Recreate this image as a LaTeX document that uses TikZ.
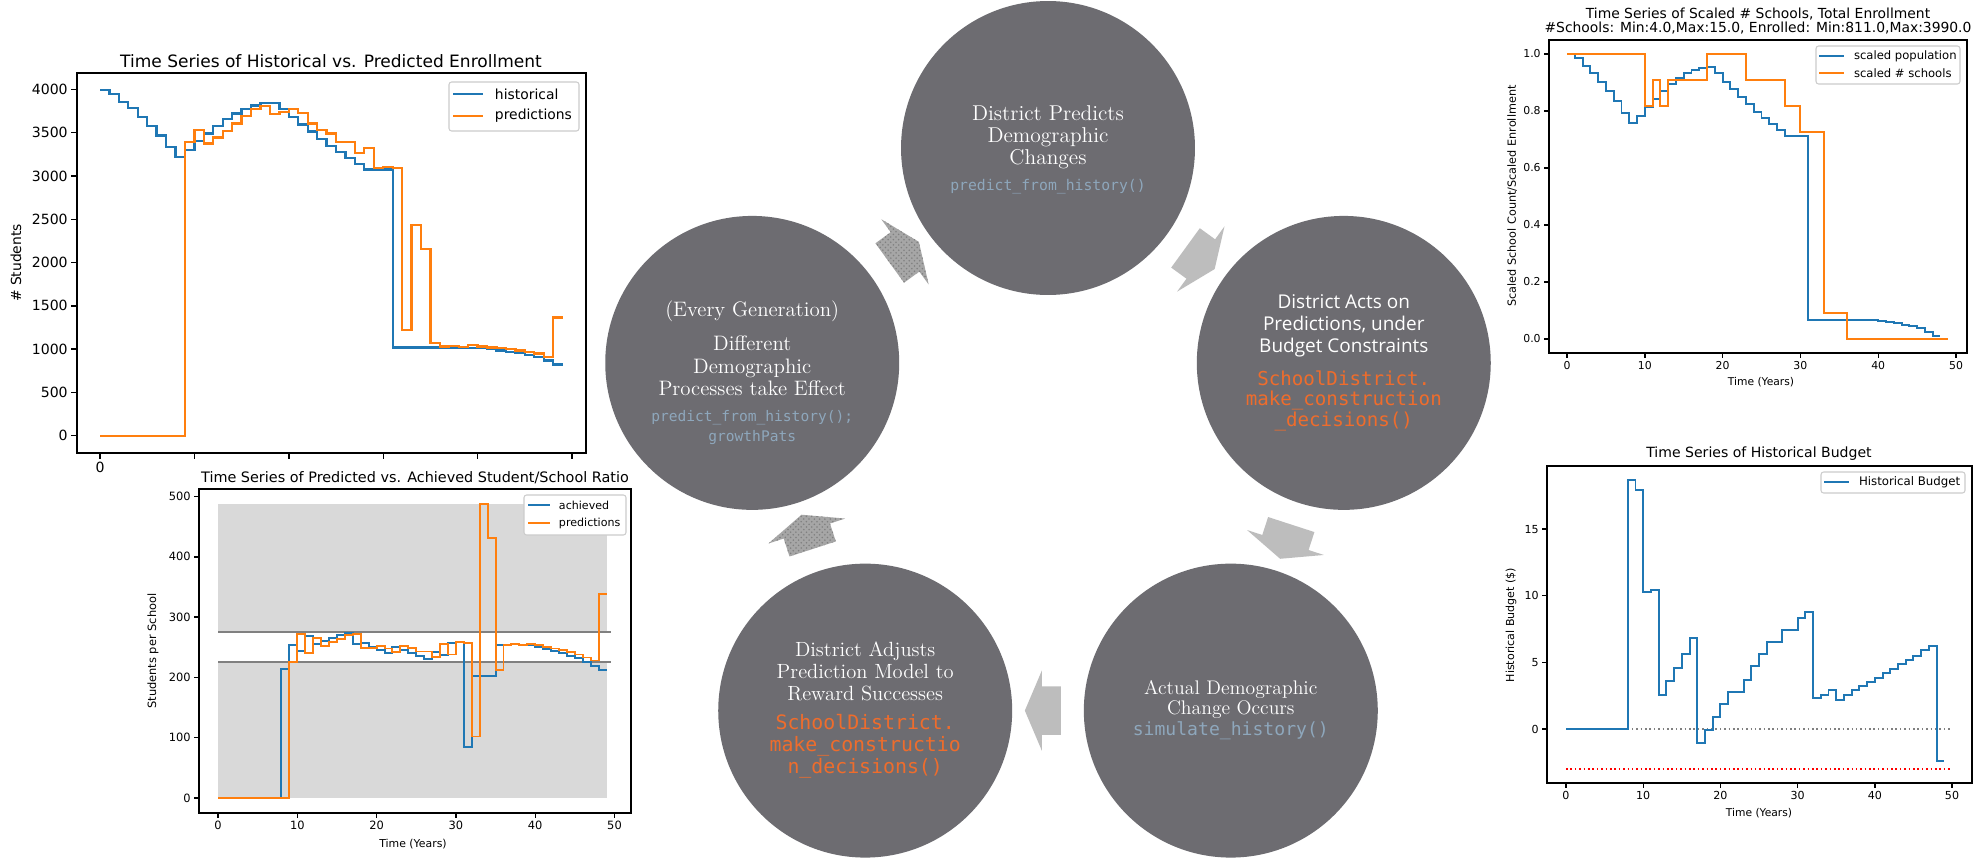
\documentclass[tikz,border=0pt]{standalone}
\usepackage{fontspec}
\newfontfamily\plotfont{DejaVu Sans}
\newfontfamily\codefont{DejaVu Sans Mono}
\newfontfamily\uifont{Open Sans}
\usetikzlibrary{calc,shapes.arrows,patterns}

\definecolor{stagegray}{HTML}{6D6C71}
\definecolor{arrowgray}{HTML}{BDBDBD}
\definecolor{stonegray}{HTML}{A6A6A6}
\definecolor{codeblue}{HTML}{8EA7BC}
\definecolor{codeorange}{HTML}{EF6C2C}
\definecolor{mplblue}{HTML}{1F77B4}
\definecolor{mplorange}{HTML}{FF7F0E}
\definecolor{legendframe}{HTML}{CCCCCC}
\definecolor{bandgray}{HTML}{D9D9D9}
\definecolor{bandline}{HTML}{808080}

\tikzset{
  stage/.style={circle, fill=stagegray, minimum size=5.88cm, inner sep=0pt},
  stagetext/.style 2 args={text=white, align=center, inner sep=0pt, font=\fontsize{#1}{#2}\selectfont},
  codeline/.style 2 args={align=center, inner sep=0pt, font=\codefont\fontsize{#1}{#2}\selectfont},
  cycarrow/.style={single arrow, fill=arrowgray, inner xsep=0pt, inner ysep=0.48cm,
    minimum height=0.72cm, single arrow head extend=0.32cm, single arrow tip angle=134,
    sloped, allow upside down},
  stonearrow/.style={cycarrow, fill=stonegray, postaction={pattern=crosshatch dots, pattern color=black!50}},
  mpl/.style={inner sep=1.5pt, font=\plotfont\fontsize{#1}{#1}\selectfont},
  spine/.style={line width=0.8pt},
  tickmark/.style={line width=0.8pt},
  series/.style={line width=#1},
  legendbox/.style={draw=legendframe, fill=white, line width=0.6pt, rounded corners=1.5pt}
}

\begin{document}
\begin{tikzpicture}[x=0.02cm, y=-0.02cm]
\useasboundingbox (0,0) rectangle (1981,859);
\fill[white] (0,0) rectangle (1981,859);

% enrollment chart
\node[mpl=9.7] (titA) at (331,61) {Time Series of Historical vs. Predicted Enrollment};
\begin{scope}[shift={(100,435.7)}, xscale=9.44, yscale=-8.66]
\draw[series=1.3pt, mplblue] (0,39.9) \foreach \val [count=\yr] in {39.45,38.57,37.8,36.82,35.8,34.65,33.35,32.17,32.97,34.02,34.91,35.8,36.56,37.2,37.73,38.12,38.38,38.4,37.73,36.82,35.95,35.13,34.27,33.48,32.72,32.08,31.41,30.75,30.75,30.75,10.2,10.2,10.2,10.2,10.2,10.2,10.2,10.2,10.15,10.1,10.0,9.85,9.7,9.55,9.3,9.05,8.7,8.22} {-| (\yr,\val)} -- ++(1,0);
\draw[series=1.3pt, mplorange] (0,0) \foreach \val [count=\yr] in {0,0,0,0,0,0,0,0,33.9,35.3,33.75,34.45,35.15,36.05,36.95,37.7,38.05,37.15,37.35,37.7,37.25,36.05,35.3,34.9,33.95,33.95,32.65,33.2,30.9,31.05,30.9,12.2,24.3,21.6,10.7,10.3,10.35,10.25,10.5,10.3,10.2,10.1,10.0,9.85,9.7,9.5,9.05,13.66} {-| (\yr,\val)} -- ++(1,0);
\end{scope}
\draw[spine] (77,73) rectangle (586,453);
\foreach \n in {0,500,...,4000}
  \draw[tickmark] (77,{435.7-0.0866*\n}) -- ++(-6,0) node[mpl=8, left] (ytA\n) {\n};
\foreach \n in {0,...,5}
  \draw[tickmark] ({100+94.4*\n},453) -- ++(0,6);
\node[mpl=8, below] (xtA0) at (100,459) {0};
\node[mpl=7.9, rotate=90] (ylA) at (16,263) {\# Students};
\draw[legendbox] (449,82) rectangle (579,131);
\draw[series=1.3pt, mplblue] (453,94) -- (483,94);
\draw[series=1.3pt, mplorange] (453,116) -- (483,116);
\node[mpl=7.9, anchor=west] (lgA1) at (492,94) {historical};
\node[mpl=7.9, anchor=west] (lgA2) at (492,116) {predictions};

% ratio chart
\fill[white] (110,462) rectangle (660,859);
\node[mpl=8.2] (titB) at (415,478) {Time Series of Predicted vs. Achieved Student/School Ratio};
\begin{scope}[shift={(218,798)}, xscale=7.93, yscale=-0.603]
\fill[bandgray] (0,0) rectangle (49,225);
\fill[bandgray] (0,275) rectangle (49,487.5);
\draw[bandline, line width=1pt] (0,225) -- (49.5,225) (0,275) -- (49.5,275);
\draw[series=1.1pt, mplblue] (0,0) \foreach \val [count=\yr] in {0,0,0,0,0,0,0,214,254,244,268,255,261,266,270,274,256,257,250,245,240,251,246,240,235,230,242,237,257,258,85,203,203,203,254,254,255,254,253,250,247,244,240,236,232,226,219,212} {-| (\yr,\val)} -- ++(1,0);
\draw[series=1.1pt, mplorange] (0,0) \foreach \val [count=\yr] in {0,0,0,0,0,0,0,0,225,272,241,266,252,259,264,270,272,249,249,252,248,242,252,249,243,243,234,256,238,258,257,102,487,431,213,254,255,254,256,254,251,248,245,242,238,233,228,338} {-| (\yr,\val)} -- ++(1,0);
\end{scope}
\draw[spine] (199,489) rectangle (631,813);
\foreach \n in {0,100,...,500}
  \draw[tickmark] (199,{798-0.603*\n}) -- ++(-5,0) node[mpl=6.5, left] (ytB\n) {\n};
\foreach \n in {0,10,...,50}
  \draw[tickmark] ({218+7.93*\n},813) -- ++(0,5) node[mpl=6.5, below] (xtB\n) {\n};
\node[mpl=6.2] (xlB) at (413,844) {Time (Years)};
\node[mpl=6.5, rotate=90] (ylB) at (153,651) {Students per School};
\draw[legendbox] (524,495) rectangle (626,535);
\draw[series=1.1pt, mplblue] (528,505) -- (550,505);
\draw[series=1.1pt, mplorange] (528,523) -- (550,523);
\node[mpl=6.3, anchor=west] (lgB1) at (556,505) {achieved};
\node[mpl=6.3, anchor=west] (lgB2) at (556,523) {predictions};

% scaled schools chart
\node[mpl=7.9] (titC1) at (1758,14) {Time Series of Scaled \# Schools, Total Enrollment};
\node[mpl=7.9] (titC2) at (1758,28) {\#Schools: Min:4.0,Max:15.0, Enrolled: Min:811.0,Max:3990.0};
\begin{scope}[shift={(1567,339)}, xscale=7.78, yscale=-285]
\draw[series=1.1pt, mplblue] (0,1) \foreach \val [count=\yr] in {0.986,0.958,0.934,0.903,0.871,0.835,0.794,0.757,0.782,0.815,0.843,0.871,0.895,0.915,0.932,0.944,0.952,0.953,0.932,0.903,0.876,0.850,0.823,0.798,0.774,0.754,0.733,0.712,0.712,0.712,0.067,0.067,0.067,0.067,0.067,0.067,0.067,0.067,0.067,0.064,0.061,0.056,0.050,0.045,0.038,0.026,0.012} {-| (\yr,\val)} -- ++(1,0);
\draw[series=1.1pt, mplorange] (0,1) \foreach \val [count=\yr] in {1,1,1,1,1,1,1,1,1,0.818,0.909,0.818,0.909,0.909,0.909,0.909,0.909,1,1,1,1,1,0.909,0.909,0.909,0.909,0.909,0.818,0.818,0.727,0.727,0.727,0.091,0.091,0.091,0,0,0,0,0,0,0,0,0,0,0,0,0} {-| (\yr,\val)} -- ++(1,0);
\end{scope}
\draw[spine] (1549,40) rectangle (1967,353);
\foreach \n/\lab [count=\k] in {0/0.0,0.2/0.2,0.4/0.4,0.6/0.6,0.8/0.8,1/1.0}
  \draw[tickmark] (1549,{339-285*\n}) -- ++(-5,0) node[mpl=6.2, left] (ytC\k) {\lab};
\foreach \n in {0,10,...,50}
  \draw[tickmark] ({1567+7.78*\n},353) -- ++(0,5) node[mpl=6.2, below] (xtC\n) {\n};
\node[mpl=6.1] (xlC) at (1761,382) {Time (Years)};
\node[mpl=6.4, rotate=90] (ylC) at (1512,196) {Scaled School Count/Scaled Enrollment};
\draw[legendbox] (1816,46) rectangle (1960,84);
\draw[series=1.1pt, mplblue] (1819,56) -- (1844,56);
\draw[series=1.1pt, mplorange] (1819,73) -- (1844,73);
\node[mpl=6.6, anchor=west] (lgC1) at (1851,56) {scaled population};
\node[mpl=6.6, anchor=west] (lgC2) at (1851,73) {scaled \# schools};

% budget chart
\node[mpl=8] (titD) at (1759,454) {Time Series of Historical Budget};
\begin{scope}[shift={(1566,729)}, xscale=7.72, yscale=-13.33]
\draw[gray, line width=0.9pt, dash pattern=on 0.9pt off 1.6pt] (0,0) -- (50,0);
\draw[red, line width=0.9pt, dash pattern=on 0.9pt off 1.6pt] (0,-3) -- (50,-3);
\draw[series=1.1pt, mplblue] (0,0) \foreach \val [count=\yr] in {0,0,0,0,0,0,0,18.7,17.9,10.25,10.4,2.55,3.6,4.6,5.65,6.8,-1.05,-0.1,0.9,1.85,2.8,2.8,3.7,4.7,5.6,6.55,6.55,7.4,7.4,8.3,8.8,2.3,2.55,2.9,2.2,2.55,2.9,3.2,3.5,3.85,4.2,4.5,4.9,5.2,5.5,5.9,6.2,-2.4} {-| (\yr,\val)} -- ++(1,0);
\end{scope}
\draw[spine] (1547,466) rectangle (1972,783);
\foreach \n in {0,5,10,15}
  \draw[tickmark] (1547,{729-13.33*\n}) -- ++(-5,0) node[mpl=6.3, left] (ytD\n) {\n};
\foreach \n in {0,10,...,50}
  \draw[tickmark] ({1566+7.72*\n},783) -- ++(0,5) node[mpl=6.3, below] (xtD\n) {\n};
\node[mpl=6.1] (xlD) at (1759,813) {Time (Years)};
\node[mpl=6.3, rotate=90] (ylD) at (1511,625) {Historical Budget (\$)};
\draw[legendbox] (1821,472) rectangle (1965,493);
\draw[series=1.1pt, mplblue] (1824,482) -- (1849,482);
\node[mpl=6.7, anchor=west] (lgD1) at (1856,482) {Historical Budget};

% cycle of stages
\coordinate (cyc) at (1048,459);
\node[stage] (predict) at ($(cyc)+(-90:311)$) {};
\node[stage] (acts) at ($(cyc)+(-18:311)$) {};
\node[stage] (occurs) at ($(cyc)+(54:311)$) {};
\node[stage] (adjusts) at ($(cyc)+(126:311)$) {};
\node[stage] (everygen) at ($(cyc)+(198:311)$) {};

\node[stagetext={12.2}{12.5}] (predict-t) at ($(predict)+(0,-11)$) {District Predicts\\Demographic\\Changes};
\node[codeline={8.4}{11.3}, text=codeblue] (predict-c) at ($(predict)+(0,39)$) {predict\_from\_history()};

\node[stagetext={10.8}{12.5}, font=\uifont\fontsize{10.8}{12.5}\selectfont] (acts-t) at ($(acts)+(0,-37)$) {District Acts on\\Predictions, under\\Budget Constraints};
\node[codeline={10.9}{11.9}, text=codeorange] (acts-c) at ($(acts)+(0,38)$) {SchoolDistrict.\\make\_construction\\\_decisions()};

\node[stagetext={11.2}{11.3}] (occurs-t) at ($(occurs)+(0,-11)$) {Actual Demographic\\Change Occurs};
\node[codeline={10.3}{11.3}, text=codeblue] (occurs-c) at ($(occurs)+(0,20)$) {simulate\_history()};

\node[stagetext={11.7}{12.5}] (adjusts-t) at ($(adjusts)+(0,-39)$) {District Adjusts\\Prediction Model to\\Reward Successes};
\node[codeline={11.3}{12.5}, text=codeorange] (adjusts-c) at ($(adjusts)+(0,36)$) {SchoolDistrict.\\make\_constructio\\n\_decisions()};

\node[stagetext={11.9}{12.5}] (everygen-h) at ($(everygen)+(0,-52)$) {(Every Generation)};
\node[stagetext={11.9}{12.9}] (everygen-t) at ($(everygen)+(0,3)$) {Different\\Demographic\\Processes take Effect};
\node[codeline={8.3}{11.3}, text=codeblue] (everygen-c) at ($(everygen)+(0,65)$) {predict\_from\_history();\\growthPats};

\path (everygen) -- node[stonearrow] (grow2pred) {} (predict);
\path (predict) -- node[cycarrow] (pred2act) {} (acts);
\path (acts) -- node[cycarrow] (act2occ) {} (occurs);
\path (occurs) -- node[cycarrow] (occ2adj) {} (adjusts);
\path (adjusts) -- node[stonearrow] (adj2grow) {} (everygen);
\end{tikzpicture}
\end{document}
